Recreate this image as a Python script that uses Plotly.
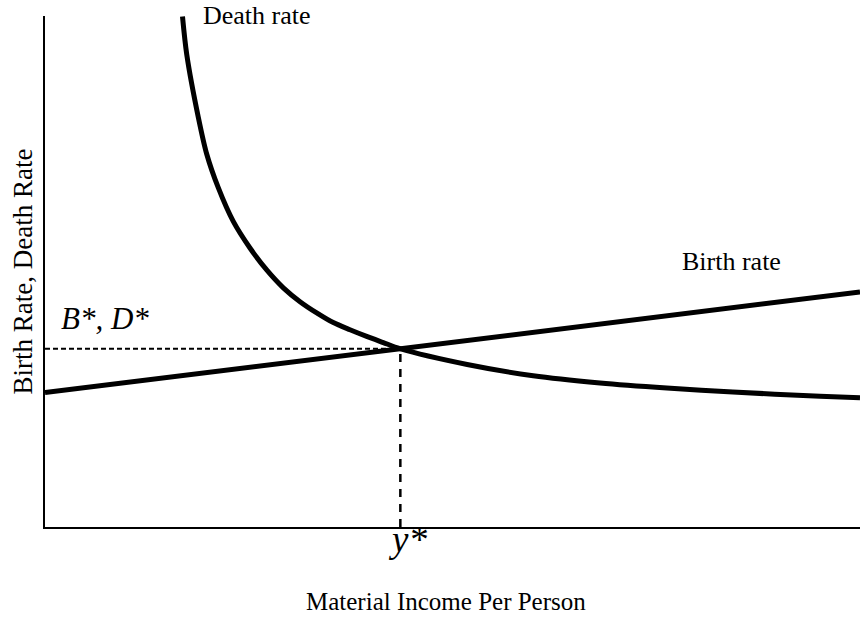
import plotly.graph_objects as go

# Death rate curve
death_income = [16.87, 17.39, 18.81, 19.84, 21.26, 23.10, 25.15, 27.20, 29.24, 31.29, 33.34,
                35.37, 37.42, 39.47, 41.51, 43.56, 51.8, 59.9, 68.1, 76.3, 84.4, 95.1, 100]
death_rate = [99.9, 92.5, 80.2, 73.0, 66.4, 59.8, 54.6, 50.3, 46.8, 44.1, 41.9,
              40.0, 38.6, 37.3, 36.1, 34.9, 31.8, 29.6, 28.2, 27.2, 26.4, 25.6, 25.3]

# Birth rate line
birth_income = [0, 100]
birth_rate = [26.3, 46.0]

# Equilibrium
y_star = 43.6
bd_star = 34.9

FONT = "Liberation Serif"

fig = go.Figure()

fig.add_trace(go.Scatter(x=[0, y_star], y=[bd_star, bd_star], mode="lines",
                         line=dict(color="black", width=2, dash="5px,3px"), hoverinfo="skip"))
fig.add_trace(go.Scatter(x=[y_star, y_star], y=[0, bd_star], mode="lines",
                         line=dict(color="black", width=2.5, dash="8px,7px"), hoverinfo="skip"))
fig.add_trace(go.Scatter(x=birth_income, y=birth_rate, mode="lines",
                         line=dict(color="black", width=5), name="Birth rate"))
fig.add_trace(go.Scatter(x=death_income, y=death_rate, mode="lines",
                         line=dict(color="black", width=5, shape="spline", smoothing=0.8),
                         name="Death rate"))

# curve labels
fig.add_annotation(x=19.2, y=100, text="Death rate", xanchor="left", yanchor="middle",
                   yshift=1, showarrow=False, font=dict(family=FONT, size=26, color="black"))
fig.add_annotation(x=77.9, y=51.9, text="Birth rate", xanchor="left", yanchor="middle",
                   showarrow=False, font=dict(family=FONT, size=26, color="black"))
fig.add_annotation(x=1.7, y=40.8, text="<i>B*, D*</i>", xanchor="left", yanchor="middle",
                   showarrow=False, font=dict(family=FONT, size=31, color="black"))
fig.add_annotation(x=0.4448, xref="paper", y=0.0186, yref="paper", text="<i>y*</i>",
                   xanchor="center", yanchor="top", showarrow=False,
                   font=dict(family=FONT, size=37, color="black"))

# axis titles
fig.add_annotation(x=0.492, xref="paper", y=-75 / 511.5, yref="paper",
                   text="Material Income Per Person", showarrow=False,
                   xanchor="center", yanchor="middle",
                   font=dict(family=FONT, size=25, color="black"))
fig.add_annotation(x=-23 / 815, xref="paper", y=0.5, yref="paper",
                   text="Birth Rate, Death Rate", showarrow=False, textangle=-90,
                   xanchor="center", yanchor="middle",
                   font=dict(family=FONT, size=27, color="black"))

fig.update_xaxes(range=[0, 100], showline=True, linecolor="black", linewidth=2,
                 showgrid=False, zeroline=False, showticklabels=False, ticks="")
fig.update_yaxes(range=[0, 100], showline=True, linecolor="black", linewidth=2,
                 showgrid=False, zeroline=False, showticklabels=False, ticks="")

fig.update_layout(
    width=860, height=618,
    margin=dict(l=45, r=0, t=16, b=90.5),
    plot_bgcolor="white", paper_bgcolor="white",
    showlegend=False,
)

# drop the page's default 8px body margin so the figure fills the window
fig.write_html("out.html", config={"displayModeBar": False},
               post_script="document.body.style.margin = '0';")
